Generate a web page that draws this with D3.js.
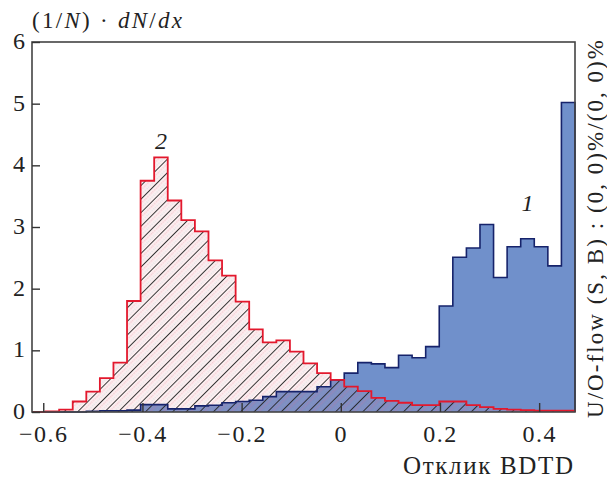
<!DOCTYPE html>
<html lang="en">

<head>
    <meta charset="utf-8">
    <title>BDTD response histograms</title>
    <script type="text/javascript" src="https://d3js.org/d3.v7.min.js"></script>
    <style type="text/css">
        body { margin: 0; background: #fff; }
        text { font-family: "Liberation Serif", "Times New Roman", serif; fill: #222; }
    </style>
</head>

<body>
    <script type="text/javascript">
        //Histogram binning: 40 equal bins starting at binStart
        const binStart = -0.6227;
        const binWidth = 0.027375;

        //Curve 1 (blue, filled) - normalised counts per bin
        const series1 = [0, 0, 0, 0, 0.01, 0.02, 0.02, 0.03, 0.12, 0.12,
            0.05, 0.05, 0.10, 0.11, 0.15, 0.17, 0.19, 0.25, 0.33, 0.33,
            0.33, 0.41, 0.52, 0.63, 0.80, 0.78, 0.72, 0.92, 0.88, 1.06,
            1.72, 2.51, 2.66, 3.04, 2.18, 2.68, 2.81, 2.68, 2.37, 5.02];

        //Curve 2 (red, hatched)
        const series2 = [0, 0.01, 0.04, 0.17, 0.33, 0.55, 0.80, 1.80, 3.75, 4.13,
            3.43, 3.11, 2.93, 2.46, 2.21, 1.79, 1.34, 1.13, 1.16, 0.98,
            0.79, 0.63, 0.52, 0.41, 0.34, 0.23, 0.18, 0.15, 0.11, 0.11,
            0.17, 0.17, 0.11, 0.08, 0.05, 0.04, 0.03, 0.02, 0.02, 0.02];

        const xTicks = [-0.6, -0.4, -0.2, 0, 0.2, 0.4];
        const yTicks = [0, 1, 2, 3, 4, 5, 6];
        const curveLabels = ['1', '2'];

        const yTitle = '(1/<i>N</i>) · <i>dN</i>/<i>dx</i>';
        const xTitle = 'Отклик BDTD';
        const flowText = 'U/O-flow (S, B) : (0, 0)%/(0, 0)%';

        //Canvas
        const canvasWidth = 607;
        const canvasHeight = 479;
        const plotLeft = 32, plotRight = 575, plotTop = 42, plotBottom = 412;

        const binEdges = d3.range(series1.length + 1).map(i => binStart + i * binWidth);

        const xScale = d3.scaleLinear()
            .domain([binEdges[0], binEdges[binEdges.length - 1]])
            .range([plotLeft, plotRight]);

        const yScale = d3.scaleLinear()
            .domain([0, 6])
            .range([plotBottom, plotTop]);

        const svg = d3.select('body')
            .append('svg')
            .attr('width', canvasWidth)
            .attr('height', canvasHeight);

        //Hatch pattern for curve 2
        const defs = svg.append('defs');
        const hatch = defs.append('pattern')
            .attr('id', 'hatch')
            .attr('patternUnits', 'userSpaceOnUse')
            .attr('width', 9.6)
            .attr('height', 9.6)
            .attr('patternTransform', 'rotate(45)');
        hatch.append('rect')
            .attr('width', 9.6).attr('height', 9.6)
            .attr('fill', 'rgba(235,120,140,0.13)');
        hatch.append('line')
            .attr('x1', 0.5).attr('y1', 0).attr('x2', 0.5).attr('y2', 9.6)
            .attr('stroke', '#222').attr('stroke-width', 0.9);
        hatch.append('line')
            .attr('x1', 3.7).attr('y1', 0).attr('x2', 3.7).attr('y2', 9.6)
            .attr('stroke', 'rgba(230,110,130,0.45)').attr('stroke-width', 0.8)
            .attr('stroke-dasharray', '1.5,1');
        hatch.append('line')
            .attr('x1', 6.9).attr('y1', 0).attr('x2', 6.9).attr('y2', 9.6)
            .attr('stroke', 'rgba(120,190,190,0.45)').attr('stroke-width', 0.8)
            .attr('stroke-dasharray', '1,1.5');

        //Step points for a histogram outline
        function stepPoints(values) {
            const pts = [{ x: binEdges[0], y: 0 }];
            values.forEach((v, i) => pts.push({ x: binEdges[i], y: v }));
            pts.push({ x: binEdges[values.length], y: values[values.length - 1] });
            pts.push({ x: binEdges[values.length], y: 0 });
            return pts;
        }

        const area = d3.area()
            .x(d => xScale(d.x))
            .y0(yScale(0))
            .y1(d => yScale(d.y))
            .curve(d3.curveStepAfter);

        const line = d3.line()
            .x(d => xScale(d.x))
            .y(d => yScale(d.y))
            .curve(d3.curveStepAfter);

        const pts1 = stepPoints(series1);
        const pts2 = stepPoints(series2);

        svg.append('path').datum(pts1).attr('d', area).attr('fill', '#7090cb');
        svg.append('path').datum(pts2).attr('d', area).attr('fill', 'url(#hatch)');
        svg.append('path').datum(pts1).attr('d', line)
            .attr('fill', 'none').attr('stroke', '#16236b').attr('stroke-width', 1.6);
        svg.append('path').datum(pts2).attr('d', line)
            .attr('fill', 'none').attr('stroke', '#e3182d').attr('stroke-width', 1.8);

        //Frame
        svg.append('rect')
            .attr('x', plotLeft).attr('y', plotTop)
            .attr('width', plotRight - plotLeft).attr('height', plotBottom - plotTop)
            .attr('fill', 'none').attr('stroke', '#444').attr('stroke-width', 1.6);

        //Axes with inward ticks
        const bottomAxis = d3.axisBottom(xScale)
            .tickValues(xTicks)
            .tickSizeInner(-9)
            .tickSizeOuter(0)
            .tickPadding(13)
            .tickFormat(d3.format('.1~f'));

        const leftAxis = d3.axisLeft(yScale)
            .tickValues(yTicks)
            .tickSizeInner(-8)
            .tickSizeOuter(0)
            .tickPadding(7)
            .tickFormat(d3.format('d'));

        const gx = svg.append('g')
            .attr('transform', 'translate(0,' + plotBottom + ')')
            .call(bottomAxis);
        const gy = svg.append('g')
            .attr('transform', 'translate(' + plotLeft + ',0)')
            .call(leftAxis);

        [gx, gy].forEach(g => {
            g.select('.domain').remove();
            g.selectAll('.tick line').attr('stroke', '#333').attr('stroke-width', 1.4);
            g.selectAll('.tick text')
                .attr('font-family', '"Liberation Serif", serif')
                .attr('font-size', 24)
                .attr('fill', '#222');
        });
        gx.selectAll('.tick text').attr('letter-spacing', 1.5);
        gy.selectAll('.tick text').attr('dy', '0.27em').attr('x', -7);

        //Axis titles
        svg.append('text')
            .attr('x', plotLeft)
            .attr('y', 28)
            .attr('font-size', 23)
            .attr('textLength', 150)
            .attr('lengthAdjust', 'spacing')
            .html(yTitle.replace(/<i>/g, '<tspan font-style="italic">').replace(/<\/i>/g, '</tspan>'));

        svg.append('text')
            .attr('x', 403)
            .attr('y', 474)
            .attr('font-size', 25)
            .attr('textLength', 170)
            .attr('lengthAdjust', 'spacing')
            .text(xTitle);

        svg.append('text')
            .attr('transform', 'translate(603,418) rotate(-90)')
            .attr('font-size', 23)
            .attr('textLength', 378)
            .attr('lengthAdjust', 'spacing')
            .text(flowText);

        //Curve labels
        svg.append('text')
            .attr('x', xScale(binEdges[36] + binWidth / 2))
            .attr('y', yScale(series1[36]) - 28)
            .attr('text-anchor', 'middle')
            .attr('font-size', 24)
            .attr('font-style', 'italic')
            .text(curveLabels[0]);

        svg.append('text')
            .attr('x', xScale(binEdges[9] + binWidth / 2))
            .attr('y', yScale(series2[9]) - 8)
            .attr('text-anchor', 'middle')
            .attr('font-size', 24)
            .attr('font-style', 'italic')
            .text(curveLabels[1]);
    </script>
</body>

</html>
